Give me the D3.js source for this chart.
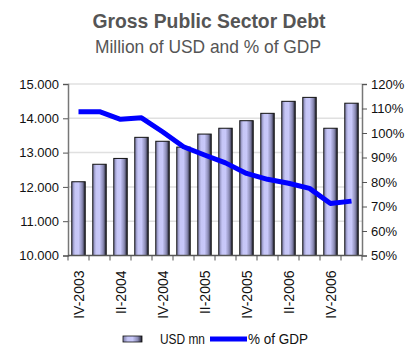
<!DOCTYPE html>
<html>
<head>
<meta charset="utf-8">
<script src="https://cdn.jsdelivr.net/npm/d3@7"></script>
<style>
  body { margin: 0; background: #fff; }
  text { font-family: "Liberation Sans", Arial, sans-serif; }
</style>
</head>
<body>
<div id="chart"></div>
<script>
var quarters = ["IV-2003","I-2004","II-2004","III-2004","IV-2004","I-2005","II-2005","III-2005",
                "IV-2005","I-2006","II-2006","III-2006","IV-2006","I-2007"];
var tickQuarters = ["IV-2003","II-2004","IV-2004","II-2005","IV-2005","II-2006","IV-2006"];
var debtUsd = [12150, 12660, 12830, 13445, 13330, 13160, 13540, 13710, 13930, 14145, 14495, 14610, 13710, 14440];
var debtPct = [108.7, 108.7, 105.6, 106.2, 100.5, 94.4, 91.0, 87.8, 83.5, 81.1, 79.5, 77.4, 71.2, 72.2];
var usdTicks = [10000, 11000, 12000, 13000, 14000, 15000];
var pctTicks = [50, 60, 70, 80, 90, 100, 110, 120];

var W = 408, H = 347;
var margin = {top: 84, right: 46, bottom: 91.5, left: 68};
var width = W - margin.left - margin.right,
    height = H - margin.top - margin.bottom;

var svg = d3.select("#chart").append("svg")
  .attr("width", W)
  .attr("height", H);

// bar gradient
var defs = svg.append("defs");
var grad = defs.append("linearGradient").attr("id", "barGrad")
  .attr("x1", "0%").attr("x2", "100%").attr("y1", "0%").attr("y2", "0%");
[["0%", "#7c7ca8"], ["25%", "#c6c6f6"], ["50%", "#c8c8fa"], ["78%", "#8a8ab4"], ["100%", "#1e1e2a"]]
  .forEach(function(s) { grad.append("stop").attr("offset", s[0]).attr("stop-color", s[1]); });

// narrow-looking text: squeeze to the reference width
function narrowText(sel, x, y, len, size, txt, anchor) {
  return sel.append("text")
    .attr("x", x).attr("y", y)
    .attr("text-anchor", anchor || "start")
    .attr("textLength", len)
    .attr("lengthAdjust", "spacingAndGlyphs")
    .style("font-size", size + "px")
    .text(txt);
}

narrowText(svg, 209, 28, 233, 20, "Gross Public Sector Debt", "middle")
  .style("font-weight", "bold").style("fill", "#555");
narrowText(svg, 208, 53, 226, 19, "Million of USD and % of GDP", "middle")
  .style("fill", "#555");

var g = svg.append("g").attr("transform", "translate(" + margin.left + "," + margin.top + ")");

var x = d3.scaleBand().domain(quarters).range([0, width]).paddingInner(0.36).paddingOuter(0.18);
var yL = d3.scaleLinear().domain([10000, 15000]).range([height, 0]);
var yR = d3.scaleLinear().domain([50, 120]).range([height, 0]);

// gridlines
g.append("g").selectAll("line")
  .data(usdTicks.slice(1))
  .enter().append("line")
  .attr("x1", 0).attr("x2", width)
  .attr("y1", function(d) { return yL(d); })
  .attr("y2", function(d) { return yL(d); })
  .attr("stroke", "#e0e0e0").attr("stroke-width", 1.5);

// bars
g.append("g").selectAll("rect")
  .data(debtUsd)
  .enter().append("rect")
  .attr("x", function(d, i) { return x(quarters[i]); })
  .attr("y", function(d) { return yL(d); })
  .attr("width", x.bandwidth())
  .attr("height", function(d) { return height - yL(d); })
  .attr("fill", "url(#barGrad)")
  .attr("stroke", "#111").attr("stroke-width", 1);

// line
var line = d3.line()
  .x(function(d, i) { return x(quarters[i]) + x.bandwidth() / 2; })
  .y(function(d) { return yR(d); });
g.append("path")
  .datum(debtPct)
  .attr("d", line)
  .attr("fill", "none")
  .attr("stroke", "#0000ff")
  .attr("stroke-width", 5)
  .attr("stroke-linejoin", "round");

// axes
var leftAxis = d3.axisLeft(yL).tickValues(usdTicks).tickSize(5).tickPadding(4)
  .tickFormat(function(d) { return d3.format(",")(d).replace(",", "."); });
var gl = g.append("g").call(leftAxis);
gl.select(".domain").attr("stroke", "#777").attr("stroke-width", 1.5);
gl.selectAll(".tick line").attr("stroke", "#555");
gl.selectAll("text").style("font-family", "'Liberation Sans', Arial, sans-serif").style("font-size", "13px").style("fill", "#111");

var rightAxis = d3.axisRight(yR).tickValues(pctTicks).tickSize(5).tickPadding(4)
  .tickFormat(function(d) { return d + "%"; });
var gr = g.append("g").attr("transform", "translate(" + width + ",0)").call(rightAxis);
gr.select(".domain").attr("stroke", "#777").attr("stroke-width", 1.5);
gr.selectAll(".tick line").attr("stroke", "#555");
gr.selectAll("text").style("font-family", "'Liberation Sans', Arial, sans-serif").style("font-size", "13px").style("fill", "#111");

// x axis: ticks at band boundaries
var gx = g.append("g").attr("transform", "translate(0," + height + ")");
gx.append("line").attr("x1", 0).attr("x2", width).attr("stroke", "#555").attr("stroke-width", 1.5);
var step = x.step();
gx.selectAll(".bt")
  .data(d3.range(quarters.length + 1))
  .enter().append("line")
  .attr("x1", function(i) { return i * step; })
  .attr("x2", function(i) { return i * step; })
  .attr("y1", 0).attr("y2", 5)
  .attr("stroke", "#555");
gx.selectAll(".xl")
  .data(tickQuarters)
  .enter().append("text")
  .attr("transform", function(d) {
    return "translate(" + (x(d) + x.bandwidth() / 2 + 5) + ",15) rotate(-90)";
  })
  .attr("text-anchor", "end")
  .style("font-size", "14px").style("fill", "#111")
  .text(function(d) { return d; });

// legend
var lg = svg.append("g");
lg.append("rect").attr("x", 123).attr("y", 336).attr("width", 19).attr("height", 6)
  .attr("fill", "url(#barGrad)").attr("stroke", "#111").attr("stroke-width", 0.8);
narrowText(lg, 160, 344, 45, 15, "USD mn").style("fill", "#111");
lg.append("line").attr("x1", 210).attr("x2", 247).attr("y1", 339).attr("y2", 339)
  .attr("stroke", "#0000ff").attr("stroke-width", 5);
narrowText(lg, 248, 344, 60, 15, "% of GDP").style("fill", "#111");
</script>
</body>
</html>
